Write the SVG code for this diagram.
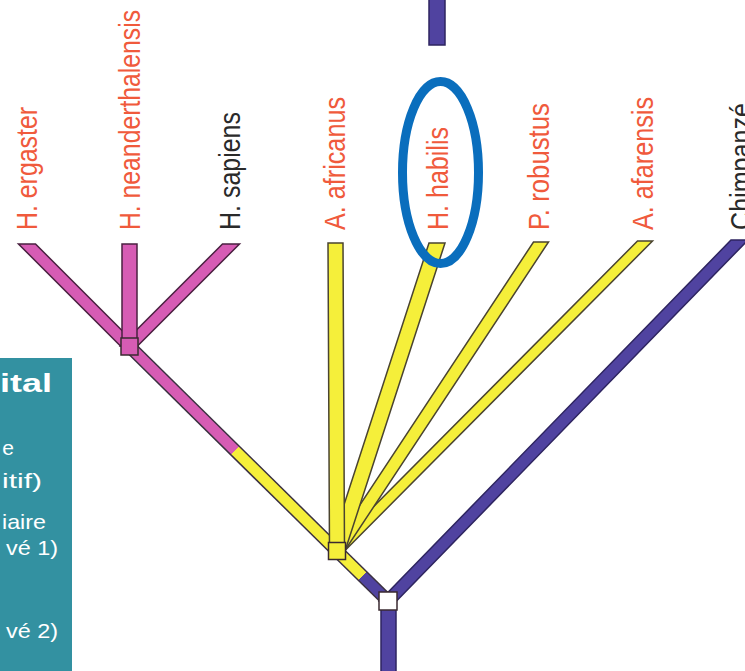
<svg xmlns="http://www.w3.org/2000/svg" width="745" height="671" viewBox="0 0 745 671">
<defs>
<style>
.lbl{font-family:"Liberation Sans",Arial,sans-serif;font-size:30px;fill:#f05a3c}
.dk{fill:#2a2a2a}
.leg{font-family:"Liberation Sans",Arial,sans-serif;font-size:21px;fill:#ffffff}
.pink{fill:#d65cb4;stroke:#4a2040;stroke-width:1.5}
.yel{fill:#f5ef3a;stroke:#4a4430;stroke-width:1.5}
.pur{fill:#5043a0;stroke:#2e2560;stroke-width:1.5}
.node{stroke:#3a2a30;stroke-width:1.5}
</style>
<linearGradient id="gPY" gradientUnits="userSpaceOnUse" x1="129" y1="346" x2="337" y2="551">
<stop offset="0.51" stop-color="#d65cb4"/><stop offset="0.51" stop-color="#f5ef3a"/>
</linearGradient>
<linearGradient id="gYP" gradientUnits="userSpaceOnUse" x1="337" y1="551" x2="388" y2="601">
<stop offset="0.5" stop-color="#f5ef3a"/><stop offset="0.5" stop-color="#5043a0"/>
</linearGradient>
</defs>
<rect width="745" height="671" fill="#ffffff"/>

<g id="legend">
<rect x="-1" y="358" width="73" height="314" fill="#3391a1"/>
<text x="52" y="392" text-anchor="end" font-family="'Liberation Sans',Arial,sans-serif" font-size="25" font-weight="bold" fill="#ffffff" textLength="52" lengthAdjust="spacingAndGlyphs">ital</text>
<text class="leg" x="14" y="455" text-anchor="end">e</text>
<text class="leg" x="42" y="488" text-anchor="end" textLength="40" lengthAdjust="spacingAndGlyphs">itif)</text>
<text class="leg" x="46" y="529" text-anchor="end" textLength="44" lengthAdjust="spacingAndGlyphs">iaire</text>
<text class="leg" x="58" y="555" text-anchor="end" textLength="52" lengthAdjust="spacingAndGlyphs">vé 1)</text>
<text class="leg" x="58" y="638" text-anchor="end" textLength="52" lengthAdjust="spacingAndGlyphs">vé 2)</text>
</g>

<g id="connectors">
<rect class="pur" x="429" y="-2" width="16" height="47"/>
<rect class="pur" x="381" y="601" width="15" height="75"/>
<polygon class="pur" points="731,240 748,240 396.5,601 379.5,601"/>
<line x1="337" y1="551" x2="388" y2="601" stroke="#3a3040" stroke-width="13.5"/>
<line x1="337" y1="551" x2="388" y2="601" stroke="url(#gYP)" stroke-width="10.5"/>
<line x1="129" y1="346" x2="337" y2="551" stroke="#3a3040" stroke-width="13.5"/>
<line x1="129" y1="346" x2="337" y2="551" stroke="url(#gPY)" stroke-width="10.5"/>
<polygon class="yel" points="637.5,241 652.5,241 344.5,551 329.5,551"/>
<polygon class="yel" points="533.5,242 548.5,242 344.5,551 329.5,551"/>
<polygon class="yel" points="429,243 445,243 345,551 329,551"/>
<polygon class="yel" points="328,243 343,243 344.5,551 329.5,551"/>
<polygon class="pink" points="18.5,244 35.5,244 137.5,346 120.5,346"/>
<polygon class="pink" points="222.5,244 239.5,244 137.5,346 120.5,346"/>
<polygon class="pink" points="122,244 137,244 137,346 122,346"/>
</g>

<g id="node-homo">
<rect class="node" x="121" y="338" width="17" height="17" fill="#d65cb4"/>
</g>
<g id="node-hominines">
<rect class="node" x="328.5" y="542.5" width="17" height="17" fill="#f5ef3a"/>
</g>
<g id="node-root">
<rect class="node" x="379" y="592" width="18" height="18" fill="#ffffff"/>
</g>

<g id="label-ergaster"><text class="lbl" transform="translate(37,230) rotate(-90)" textLength="123" lengthAdjust="spacingAndGlyphs">H. ergaster</text></g>
<g id="label-neanderthalensis"><text class="lbl" transform="translate(140,230) rotate(-90)" textLength="220" lengthAdjust="spacingAndGlyphs">H. neanderthalensis</text></g>
<g id="label-sapiens"><text class="lbl dk" transform="translate(240,230) rotate(-90)" textLength="118" lengthAdjust="spacingAndGlyphs">H. sapiens</text></g>
<g id="label-africanus"><text class="lbl" transform="translate(345,230) rotate(-90)" textLength="133" lengthAdjust="spacingAndGlyphs">A. africanus</text></g>
<g id="label-habilis"><text class="lbl" transform="translate(448,230) rotate(-90)" textLength="103" lengthAdjust="spacingAndGlyphs">H. habilis</text></g>
<g id="label-robustus"><text class="lbl" transform="translate(549,230) rotate(-90)" textLength="127" lengthAdjust="spacingAndGlyphs">P. robustus</text></g>
<g id="label-afarensis"><text class="lbl" transform="translate(653,230) rotate(-90)" textLength="133" lengthAdjust="spacingAndGlyphs">A. afarensis</text></g>
<g id="label-chimpanze"><text class="lbl dk" transform="translate(751,230) rotate(-90)" textLength="127" lengthAdjust="spacingAndGlyphs">Chimpanzé</text></g>

<g id="highlight">
<ellipse cx="440.5" cy="172.5" rx="38" ry="91" fill="none" stroke="#0a6ebd" stroke-width="9"/>
</g>
</svg>
